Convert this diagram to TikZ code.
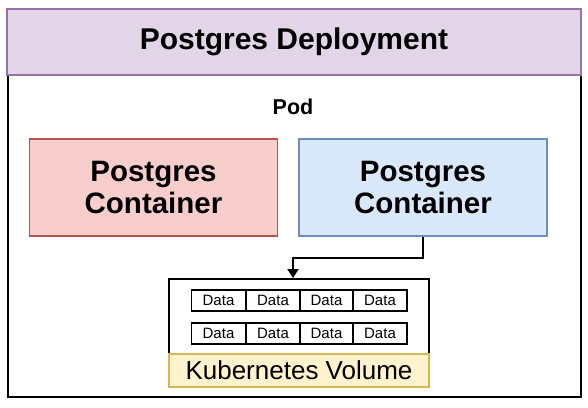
\documentclass[tikz,border=0pt]{standalone}
\usepackage{fontspec}
\setmainfont{Liberation Sans}
\usetikzlibrary{arrows.meta}
\definecolor{hdrfill}{HTML}{E1D5E7}
\definecolor{hdrline}{HTML}{9673A6}
\definecolor{redfill}{HTML}{F8CECC}
\definecolor{redline}{HTML}{B85450}
\definecolor{bluefill}{HTML}{DAE8FC}
\definecolor{blueline}{HTML}{6C8EBF}
\definecolor{yelfill}{HTML}{FFF2CC}
\definecolor{yelline}{HTML}{D6B656}
\begin{document}
\begin{tikzpicture}[x=1pt,y=-1pt,
  box/.style={rectangle, inner sep=0pt},
  contbox/.style={box, line width=1.5pt, minimum width=248pt, minimum height=97pt, align=center,
    font=\fontsize{29.5}{32.5}\selectfont\bfseries},
  cell/.style={box, draw=black, line width=1.8pt, minimum width=54pt, minimum height=21pt,
    font=\fontsize{15}{17}\selectfont},
  conn/.style={draw=black, line width=2pt, -{Triangle[length=9pt,width=11pt]}}
]
\useasboundingbox (0,0) rectangle (588,407);
\fill[white] (0,0) rectangle (588,407);
% outer deployment box
\node[box, draw=black, line width=2pt, minimum width=573pt, minimum height=322pt] (outer) at (294.5,236) {};
% header
\node[box, draw=hdrline, fill=hdrfill, line width=1.5pt, minimum width=574pt, minimum height=66pt,
  font=\fontsize{30}{34}\selectfont\bfseries] (dep) at (294,42) {Postgres Deployment};
% pod label
\node[box, font=\fontsize{21.5}{25}\selectfont\bfseries] (pod) at (293,107) {Pod};
% containers
\node[contbox, draw=redline, fill=redfill] (red) at (153.5,187.5) {Postgres\\Container};
\node[contbox, draw=blueline, fill=bluefill] (blue) at (423,187.5) {Postgres\\Container};
% volume
\node[box, draw=black, line width=2pt, minimum width=260pt, minimum height=108pt] (vol) at (299,333) {};
\node[box, draw=yelline, fill=yelfill, line width=1.5pt, minimum width=260pt, minimum height=33pt,
  font=\fontsize{26}{30}\selectfont] (vollabel) at (299,370.5) {Kubernetes Volume};
% data cells
\foreach \r/\y in {1/300.5, 2/333.5}{
  \foreach \c/\x in {1/218.5, 2/273, 3/326.5, 4/380}{
    \node[cell] (d\r\c) at (\x,\y) {Data};
  }
}
% connector
\draw[conn] (blue.south) -- ++(0,21) -| ([xshift=-6pt]vol.north);
\end{tikzpicture}
\end{document}
